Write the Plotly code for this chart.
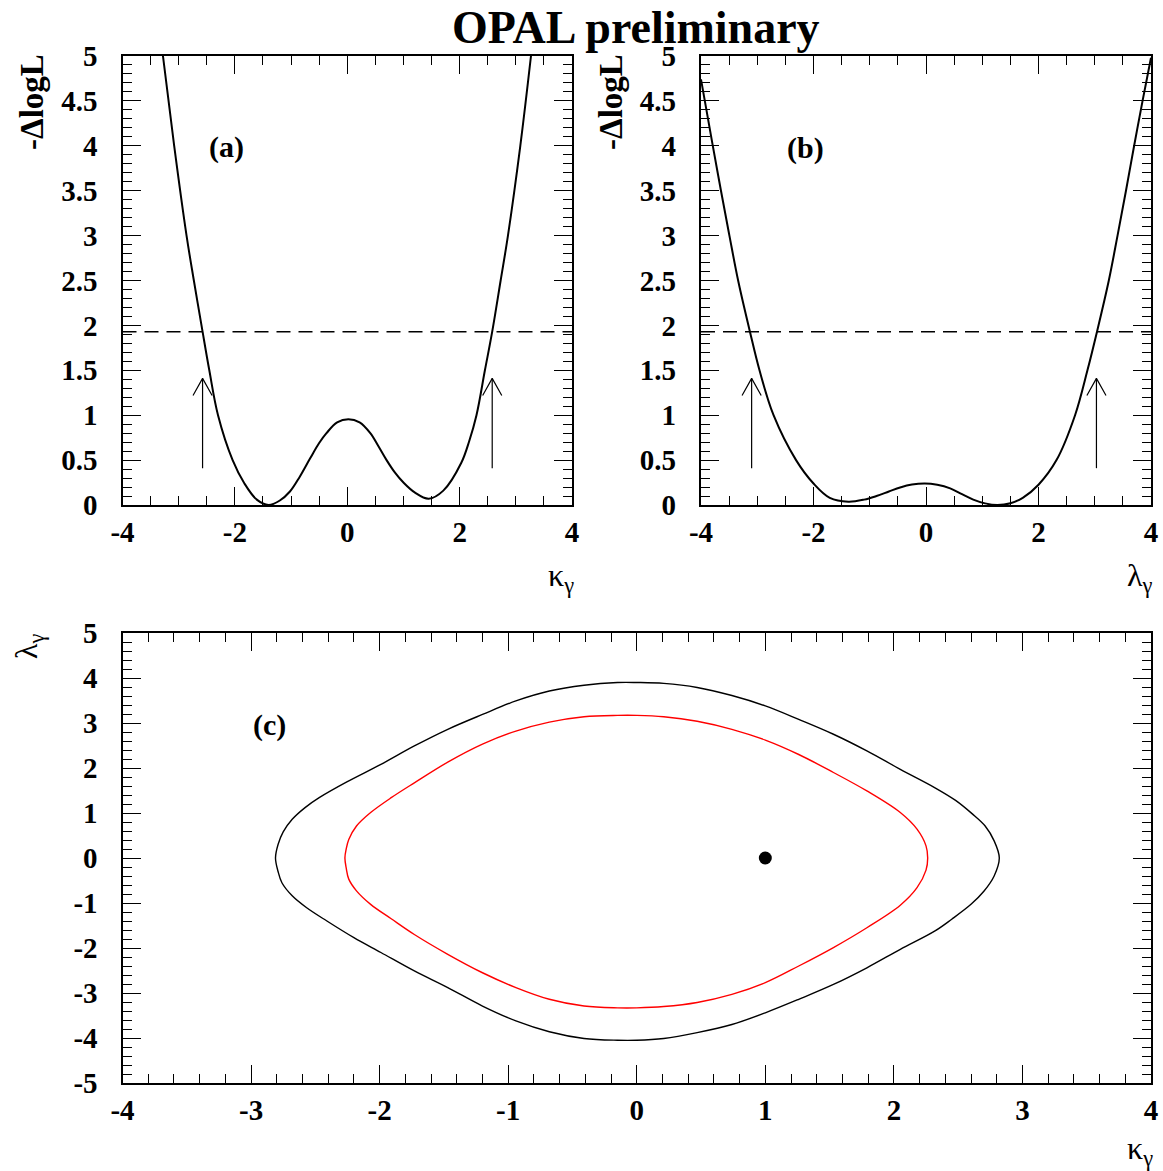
import plotly.graph_objects as go

# (a) -DeltalogL scan in kappa_gamma
kappa_scan = [-3.28, -3.08, -2.86, -2.73, -2.575, -2.455, -2.30, -2.04, -1.83, -1.61,
              -1.40, -1.20, -1.02, -0.85, -0.66, -0.50, -0.37, -0.18, 0.02, 0.22,
              0.41, 0.55, 0.70, 0.85, 1.00, 1.20, 1.45, 1.71, 2.03, 2.17,
              2.30, 2.45, 2.58, 2.73, 2.86, 3.08, 3.27]
dlogl_kappa = [5.0, 4.0, 3.0, 2.5, 1.93, 1.5, 1.0, 0.5, 0.24, 0.06,
               0.0, 0.05, 0.15, 0.31, 0.52, 0.69, 0.80, 0.92, 0.955, 0.92,
               0.80, 0.66, 0.50, 0.36, 0.25, 0.14, 0.07, 0.16, 0.47, 0.71,
               1.0, 1.5, 1.93, 2.5, 3.0, 4.0, 5.0]

# (b) -DeltalogL scan in lambda_gamma
lambda_scan = [-4.0, -3.79, -3.645, -3.495, -3.34, -3.13, -2.96, -2.71, -2.31, -2.00,
               -1.71, -1.38, -1.10, -0.88, -0.66, -0.46, -0.25, -0.02, 0.20, 0.43,
               0.64, 0.84, 1.05, 1.27, 1.50, 1.72, 2.00, 2.32, 2.65, 2.87,
               3.04, 3.25, 3.405, 3.555, 3.70, 3.85, 4.0]
dlogl_lambda = [4.74, 4.0, 3.5, 3.0, 2.5, 1.93, 1.5, 1.0, 0.5, 0.24,
                0.08, 0.037, 0.06, 0.10, 0.15, 0.195, 0.228, 0.24, 0.225, 0.185,
                0.12, 0.06, 0.018, 0.0, 0.02, 0.08, 0.226, 0.5, 1.0, 1.5,
                1.93, 2.5, 3.0, 3.5, 4.0, 4.5, 4.98]

limit_level = 1.93
kappa_limits = [-2.575, 2.58]
lambda_limits = [-3.10, 3.03]
arrow_from, arrow_to = 0.41, 1.41

# (c) 2D contours (closed loops: left nose, over the top, right nose, back under the bottom)
outer_kappa = [-2.81, -2.79, -2.75, -2.68, -2.58, -2.47, -2.255, -1.99, -1.73, -1.47,
               -1.20, -0.94, -0.68, -0.41, -0.15, 0.0, 0.21, 0.47, 0.74, 1.0,
               1.26, 1.53, 1.79, 2.05, 2.32, 2.48, 2.61, 2.71, 2.78, 2.82,
               2.78, 2.70, 2.60, 2.45, 2.32, 2.05, 1.79, 1.53, 1.26, 1.0,
               0.74, 0.47, 0.21, 0.0, -0.15, -0.41, -0.68, -0.94, -1.20, -1.47,
               -1.73, -1.99, -2.20, -2.41, -2.57, -2.68, -2.76, -2.79, -2.81]
outer_lambda = [0.0, 0.30, 0.58, 0.86, 1.12, 1.34, 1.69, 2.08, 2.49, 2.86,
                3.19, 3.49, 3.71, 3.84, 3.90, 3.90, 3.88, 3.79, 3.61, 3.38,
                3.08, 2.75, 2.38, 1.97, 1.56, 1.28, 0.98, 0.71, 0.38, 0.0,
                -0.40, -0.74, -1.03, -1.36, -1.62, -2.03, -2.44, -2.81, -3.14, -3.44,
                -3.70, -3.88, -4.01, -4.05, -4.05, -4.01, -3.86, -3.62, -3.29, -2.88,
                -2.51, -2.10, -1.77, -1.40, -1.10, -0.84, -0.55, -0.30, 0.0]
inner_kappa = [-2.27, -2.26, -2.24, -2.18, -2.07, -1.91, -1.73, -1.47, -1.20, -0.94,
               -0.68, -0.41, -0.15, 0.0, 0.21, 0.47, 0.74, 1.0, 1.26, 1.53,
               1.79, 2.05, 2.18, 2.25, 2.263, 2.25, 2.18, 2.05, 1.79, 1.53,
               1.26, 1.0, 0.74, 0.47, 0.21, 0.0, -0.15, -0.41, -0.68, -0.94,
               -1.20, -1.47, -1.73, -1.91, -2.07, -2.18, -2.24, -2.26, -2.27]
inner_lambda = [0.0, 0.20, 0.41, 0.71, 1.01, 1.34, 1.67, 2.13, 2.53, 2.82,
                3.02, 3.14, 3.17, 3.17, 3.14, 3.04, 2.86, 2.62, 2.30, 1.90,
                1.49, 1.01, 0.64, 0.27, 0.0, -0.27, -0.66, -1.05, -1.55, -1.99,
                -2.40, -2.77, -3.03, -3.21, -3.30, -3.33, -3.33, -3.29, -3.14, -2.88,
                -2.55, -2.14, -1.70, -1.35, -1.03, -0.73, -0.47, -0.22, 0.0]
best_kappa = [1.0]
best_lambda = [0.0]

# tick labels
scan_xticks = [-4, -2, 0, 2, 4]
scan_yticks = [0, 0.5, 1, 1.5, 2, 2.5, 3, 3.5, 4, 4.5, 5]
c_xticks = [-4, -3, -2, -1, 0, 1, 2, 3, 4]
c_yticks = [-5, -4, -3, -2, -1, 0, 1, 2, 3, 4, 5]

W, H = 1163, 1171
SERIF = "Liberation Serif"


def px(x):
    return x / W


def py(y):
    return 1 - y / H


def axis(vals, minor_dtick, rng, domain, anchor, standoff):
    # hyphen minus in the labels, like the original
    return dict(range=rng, domain=domain, anchor=anchor, automargin=False,
                tickmode="array", tickvals=vals, ticktext=["%g" % v for v in vals],
                showline=True, linewidth=2.2, linecolor="black", mirror="allticks",
                ticks="inside", ticklen=18, tickwidth=1.2, tickcolor="black",
                minor=dict(ticks="inside", ticklen=9, tickwidth=1.2, tickcolor="black",
                           tick0=0, dtick=minor_dtick, showgrid=False),
                showgrid=False, zeroline=False, fixedrange=True, ticklabelstandoff=standoff,
                tickfont=dict(family=SERIF, size=29, color="black", weight="bold"))


fig = go.Figure()

curve = dict(color="black", width=2, shape="spline", smoothing=1)

fig.add_trace(go.Scatter(x=kappa_scan, y=dlogl_kappa, mode="lines", line=curve,
                         xaxis="x", yaxis="y"))
fig.add_trace(go.Scatter(x=lambda_scan, y=dlogl_lambda, mode="lines", line=curve,
                         xaxis="x2", yaxis="y2"))

head_dx, head_dy = 0.17, 0.19
for xa, ya, limits in (("x", "y", kappa_limits), ("x2", "y2", lambda_limits)):
    fig.add_trace(go.Scatter(x=[-4, 4], y=[limit_level, limit_level], mode="lines",
                             line=dict(color="black", width=1.4, dash="14px,8px"), xaxis=xa, yaxis=ya))
    for lim in limits:
        fig.add_trace(go.Scatter(x=[lim, lim], y=[arrow_from, arrow_to], mode="lines",
                                 line=dict(color="black", width=1.2), xaxis=xa, yaxis=ya))
        fig.add_trace(go.Scatter(x=[lim - head_dx, lim, lim + head_dx],
                                 y=[arrow_to - head_dy, arrow_to, arrow_to - head_dy], mode="lines",
                                 line=dict(color="black", width=1.2), xaxis=xa, yaxis=ya))

fig.add_trace(go.Scatter(x=outer_kappa, y=outer_lambda, mode="lines",
                         line=dict(color="black", width=1.4, shape="spline", smoothing=1), xaxis="x3", yaxis="y3"))
fig.add_trace(go.Scatter(x=inner_kappa, y=inner_lambda, mode="lines",
                         line=dict(color="#ff0000", width=1.4, shape="spline", smoothing=1), xaxis="x3", yaxis="y3"))
fig.add_trace(go.Scatter(x=best_kappa, y=best_lambda, mode="markers",
                         marker=dict(color="black", size=13, symbol="circle"), xaxis="x3", yaxis="y3"))

top_dom = [py(505), py(56)]
fig.update_layout(
    template="none",
    width=W, height=H, margin=dict(l=0, r=0, t=0, b=0, autoexpand=False),
    paper_bgcolor="white", plot_bgcolor="white", showlegend=False,
    xaxis=axis(scan_xticks, 0.5, [-4, 4], [px(122.5), px(572)], "y", 0),
    yaxis=axis(scan_yticks, 0.1, [0, 5], top_dom, "x", 17),
    xaxis2=axis(scan_xticks, 0.5, [-4, 4], [px(701), px(1151)], "y2", 0),
    yaxis2=axis(scan_yticks, 0.1, [0, 5], top_dom, "x2", 17),
    xaxis3=axis(c_xticks, 0.2, [-4, 4], [px(122.5), px(1151)], "y3", 0),
    yaxis3=axis(c_yticks, 0.2, [-5, 5], [py(1083), py(633)], "x3", 17),
)

bold = dict(family=SERIF, size=30, color="black", weight="bold")
plain = dict(family=SERIF, size=32, color="black")
notes = [
    dict(text="OPAL preliminary", x=px(636), y=1, yanchor="top",
         font=dict(family=SERIF, size=46, color="black", weight="bold")),
    dict(text="-ΔlogL", x=px(32), y=py(102), textangle=-90, font=dict(bold, size=33)),
    dict(text="-ΔlogL", x=px(611), y=py(102), textangle=-90, font=dict(bold, size=33)),
    dict(text="(a)", x=px(226), y=py(147), font=bold),
    dict(text="(b)", x=px(805), y=py(148), font=bold),
    dict(text="(c)", x=px(269), y=py(725), font=bold),
    dict(text="κ<sub>γ</sub>", x=px(576), y=py(577), xanchor="right", font=plain),
    dict(text="λ<sub>γ</sub>", x=px(1155), y=py(577), xanchor="right", font=plain),
    dict(text="κ<sub>γ</sub>", x=px(1155), y=py(1150), xanchor="right", font=plain),
    dict(text="λ<sub>γ</sub>", x=px(28), y=py(646), textangle=-90, font=plain),
]
for n in notes:
    n.setdefault("xanchor", "center")
    n.setdefault("yanchor", "middle")
    fig.add_annotation(xref="paper", yref="paper", showarrow=False, **n)

# the page body has a default 8px margin; drop it so the figure fills the window
fig.write_html("out.html", config={"displayModeBar": False},
               post_script="document.body.style.margin = '0px';")
